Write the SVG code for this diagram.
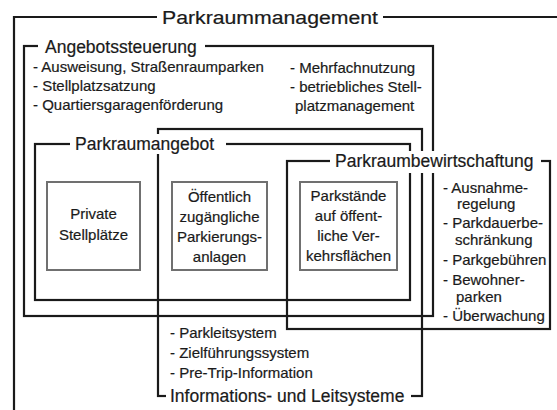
<svg xmlns="http://www.w3.org/2000/svg" width="557" height="410" viewBox="0 0 557 410">
<style>
.f{fill:none;stroke:#1a1a1a;stroke-width:2.2}
.b{fill:#fff;stroke:#707070;stroke-width:2}
.w{fill:#fff}
text{font-family:"Liberation Sans",Arial,Helvetica,sans-serif;fill:#1a1a1a;stroke:#1a1a1a;stroke-width:0.2}
.h{font-size:17.5px}
.s{font-size:15px}
.c{text-anchor:middle}
</style>
<rect width="557" height="410" fill="#fff"/>
<g id="parkraummanagement">
<path class="f" d="M14,412 V17 H559"/>
<rect class="w" x="157" y="5" width="226" height="24"/>
<text class="h" x="162" y="24" font-size="19" textLength="216" lengthAdjust="spacingAndGlyphs">Parkraummanagement</text>
</g>
<g id="angebotssteuerung">
<rect class="f" x="24" y="46" width="409" height="270"/>
<rect class="w" x="38" y="36" width="167" height="22"/>
<text class="h" x="45" y="52.5">Angebotssteuerung</text>
<text class="s" x="33" y="72">- Ausweisung, Straßenraumparken</text>
<text class="s" x="33" y="91">- Stellplatzsatzung</text>
<text class="s" x="33" y="110">- Quartiersgaragenförderung</text>
<text class="s" x="290" y="73">- Mehrfachnutzung</text>
<text class="s" x="290" y="92">- betriebliches Stell-</text>
<text class="s" x="295" y="111">platzmanagement</text>
</g>
<g id="informations-und-leitsysteme">
<rect class="f" x="158" y="129" width="264" height="267"/>
<rect class="w" x="166" y="386" width="245" height="20"/>
<text class="h" x="170" y="402">Informations- und Leitsysteme</text>
<text class="s" x="170" y="338">- Parkleitsystem</text>
<text class="s" x="170" y="358">- Zielführungssystem</text>
<text class="s" x="170" y="378">- Pre-Trip-Information</text>
</g>
<g id="parkraumangebot">
<rect class="f" x="35" y="144" width="375" height="156"/>
<rect class="w" x="70" y="134" width="156" height="20"/>
<text class="h" x="75" y="150">Parkraumangebot</text>
</g>
<g id="parkraumbewirtschaftung">
<rect class="f" x="287" y="161" width="263" height="168"/>
<rect class="w" x="330" y="151" width="211" height="22"/>
<text class="h" x="335" y="167">Parkraumbewirtschaftung</text>
<text class="s" x="443" y="193">- Ausnahme-</text>
<text class="s" x="457" y="209">regelung</text>
<text class="s" x="443" y="228">- Parkdauerbe-</text>
<text class="s" x="455" y="245">schränkung</text>
<text class="s" x="443" y="265">- Parkgebühren</text>
<text class="s" x="443" y="285">- Bewohner-</text>
<text class="s" x="456" y="302">parken</text>
<text class="s" x="443" y="321">- Überwachung</text>
</g>
<g id="private-stellplaetze">
<rect class="b" x="47" y="182" width="93" height="88"/>
<text class="s c" x="93.5" y="219">Private</text>
<text class="s c" x="93.5" y="240">Stellplätze</text>
</g>
<g id="oeffentlich-zugaengliche-parkierungsanlagen">
<rect class="b" x="172" y="182" width="95" height="88"/>
<text class="s c" x="219.5" y="202">Öffentlich</text>
<text class="s c" x="219.5" y="222">zugängliche</text>
<text class="s c" x="219.5" y="242">Parkierungs-</text>
<text class="s c" x="219.5" y="262">anlagen</text>
</g>
<g id="parkstaende">
<rect class="b" x="300" y="182" width="97" height="88"/>
<text class="s c" x="348.5" y="201">Parkstände</text>
<text class="s c" x="348.5" y="221">auf öffent-</text>
<text class="s c" x="348.5" y="241">liche Ver-</text>
<text class="s c" x="348.5" y="261">kehrsflächen</text>
</g>
<g id="connectors"></g>
</svg>
